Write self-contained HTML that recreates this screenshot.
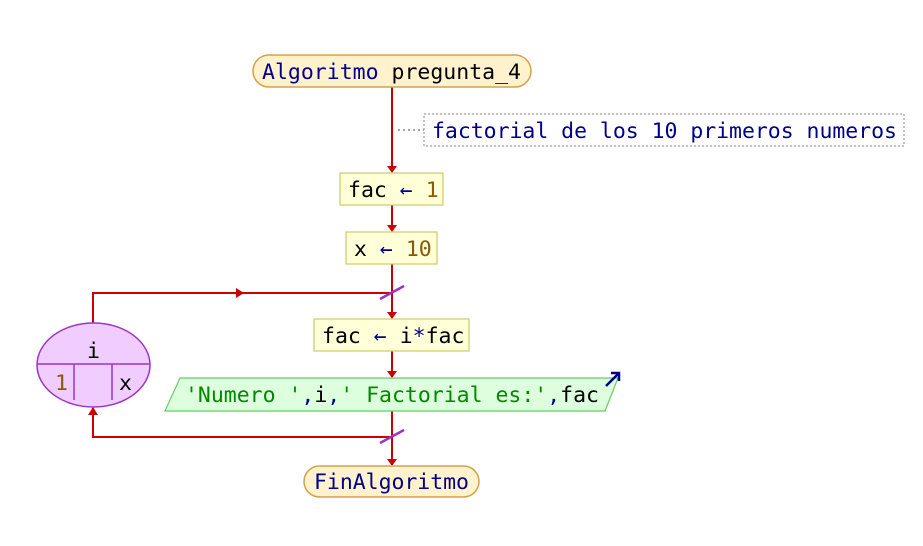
<!DOCTYPE html>
<html><head><meta charset="utf-8"><style>
html,body{margin:0;padding:0;background:#fff;width:923px;height:546px;overflow:hidden}
text{font-family:"DejaVu Sans Mono","Liberation Mono",monospace;font-size:21.5px}
</style></head><body>
<svg width="923" height="546" viewBox="0 0 923 546" xmlns="http://www.w3.org/2000/svg">
<g stroke="#cc0000" stroke-width="2" fill="none">
<line x1="392" y1="87" x2="392" y2="172"/>
<line x1="392" y1="205" x2="392" y2="231"/>
<line x1="392" y1="264" x2="392" y2="318"/>
<line x1="392" y1="351" x2="392" y2="377"/>
<line x1="392" y1="411" x2="392" y2="465"/>
<polyline points="93,323 93,293 392,293"/>
<polyline points="392,437 93,437 93,408"/>
</g>
<g fill="#cc0000">
<polygon points="387,166 397,166 392,173"/>
<polygon points="387,225 397,225 392,232"/>
<polygon points="387,312 397,312 392,319"/>
<polygon points="387,371 397,371 392,378"/>
<polygon points="387,459 397,459 392,466"/>
<polygon points="236,288 236,298 244,293"/>
<polygon points="88,415 98,415 93,407"/>
</g>
<g stroke="#9933cc" stroke-width="2.5">
<line x1="380" y1="299" x2="404" y2="286"/>
<line x1="380" y1="443" x2="404" y2="430"/>
</g>
<rect x="253" y="55" width="278" height="32" rx="16" fill="#fff2cc" stroke="#d6a04a" stroke-width="1.5"/>
<text x="262" y="79" textLength="259"><tspan fill="#00008b">Algoritmo</tspan> <tspan fill="#000">pregunta_4</tspan></text>
<line x1="398" y1="130" x2="424" y2="130" stroke="#888" stroke-width="1.5" stroke-dasharray="2,3"/>
<rect x="424" y="114" width="480" height="32" fill="#fff" stroke="#888" stroke-width="1" stroke-dasharray="2,2"/>
<text x="432" y="138" fill="#00008b" textLength="465">factorial de los 10 primeros numeros</text>
<rect x="340" y="173" width="103" height="32" fill="#ffffd8" stroke="#cccc66" stroke-width="1.2"/>
<text x="348" y="197"><tspan fill="#000">fac</tspan> <tspan fill="#00008b">←</tspan> <tspan fill="#8b5a00">1</tspan></text>
<rect x="346" y="232" width="91" height="32" fill="#ffffd8" stroke="#cccc66" stroke-width="1.2"/>
<text x="354" y="256"><tspan fill="#000">x</tspan> <tspan fill="#00008b">←</tspan> <tspan fill="#8b5a00">10</tspan></text>
<rect x="314" y="319" width="155" height="32" fill="#ffffd8" stroke="#cccc66" stroke-width="1.2"/>
<text x="322" y="343"><tspan fill="#000">fac</tspan> <tspan fill="#00008b">←</tspan> <tspan fill="#000">i</tspan><tspan fill="#00008b">*</tspan><tspan fill="#000">fac</tspan></text>
<polygon points="180,378 618,378 605,411 165,411" fill="#ddffdd" stroke="#66cc66" stroke-width="1.2"/>
<text x="185" y="402" textLength="414"><tspan fill="#008800">'Numero '</tspan><tspan fill="#00008b">,</tspan><tspan fill="#000">i</tspan><tspan fill="#00008b">,</tspan><tspan fill="#008800">' Factorial es:'</tspan><tspan fill="#00008b">,</tspan><tspan fill="#000">fac</tspan></text>
<g stroke="#00008b" stroke-width="2.5" fill="none">
<line x1="606" y1="386" x2="619" y2="373"/>
<polyline points="611,373 619,373 619,381"/>
</g>
<ellipse cx="93.5" cy="365" rx="56.5" ry="42" fill="#f0ccff" stroke="#9933cc" stroke-width="1.5"/>
<line x1="37" y1="364" x2="150" y2="364" stroke="#9933cc" stroke-width="1.5"/>
<line x1="74" y1="364" x2="74" y2="400" stroke="#9933cc" stroke-width="1.5"/>
<line x1="112" y1="364" x2="112" y2="400" stroke="#9933cc" stroke-width="1.5"/>
<text x="87" y="358" fill="#000">i</text>
<text x="55" y="390" fill="#8b5a00">1</text>
<text x="119" y="390" fill="#000">x</text>
<rect x="304" y="466" width="175" height="31" rx="15.5" fill="#fff2cc" stroke="#d6a04a" stroke-width="1.5"/>
<text x="314" y="489" fill="#00008b" textLength="155">FinAlgoritmo</text>
</svg>
</body></html>
